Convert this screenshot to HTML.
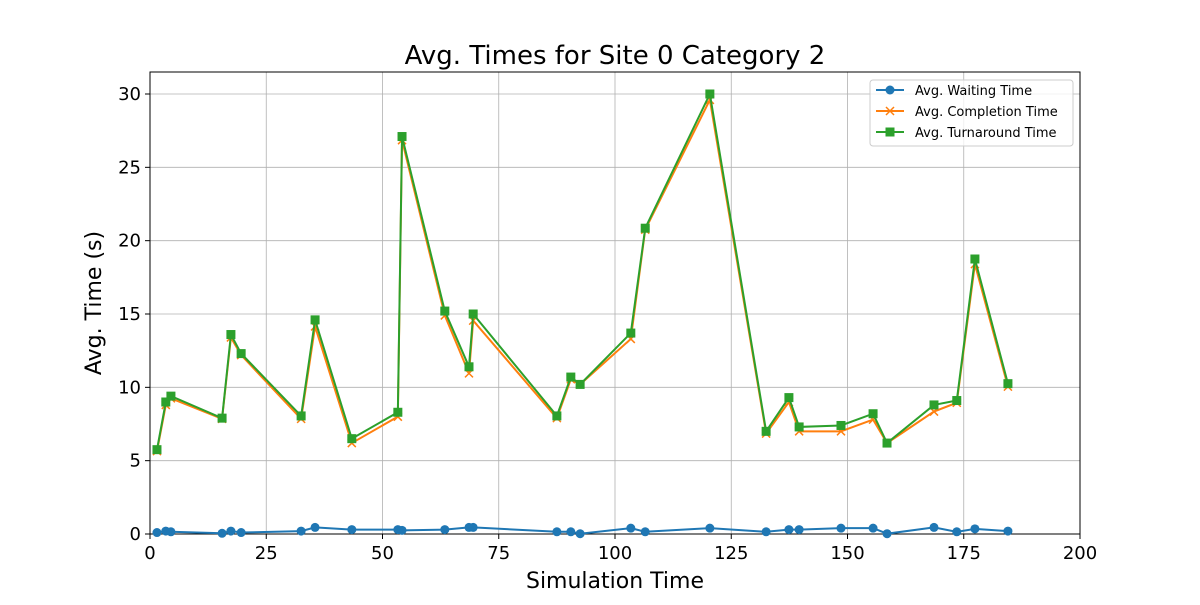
<!DOCTYPE html>
<html><head><meta charset="utf-8"><style>
body{margin:0;background:#fff;font-family:"Liberation Sans","DejaVu Sans",sans-serif}
</style></head><body>
<svg id="chart" width="1200" height="600" xmlns="http://www.w3.org/2000/svg" font-family="DejaVu Sans, Liberation Sans, sans-serif"></svg>
<script>
const xValues=[1.5,3.4,4.5,15.5,17.4,19.6,32.5,35.5,43.4,53.3,54.2,63.4,68.6,69.5,87.5,90.5,92.5,103.4,106.5,120.4,132.5,137.4,139.6,148.6,155.5,158.5,168.6,173.5,177.4,184.5];
const waiting=[0.1,0.2,0.15,0.05,0.2,0.1,0.2,0.45,0.3,0.3,0.25,0.3,0.45,0.45,0.15,0.15,0.02,0.4,0.15,0.4,0.15,0.3,0.3,0.4,0.4,0.02,0.45,0.15,0.35,0.2];
const completion=[5.65,8.8,9.25,7.85,13.4,12.2,7.85,14.15,6.2,8.0,26.85,14.9,10.95,14.55,7.9,10.55,10.2,13.3,20.75,29.6,6.85,9.0,7.0,7.0,7.8,6.2,8.35,8.95,18.4,10.05];
const turnaround=[5.75,9.0,9.4,7.9,13.6,12.3,8.05,14.6,6.5,8.3,27.1,15.2,11.4,15.0,8.05,10.7,10.2,13.7,20.85,30.0,7.0,9.3,7.3,7.4,8.2,6.2,8.8,9.1,18.75,10.25];
const xTicks=[0,25,50,75,100,125,150,175,200];
const yTicks=[0,5,10,15,20,25,30];
const NS="http://www.w3.org/2000/svg",svg=document.getElementById('chart');
const L=150,R=1080,T=72,B=534;
const X=v=>L+(v/200)*(R-L), Y=v=>B-(v/31.5)*(B-T);
function el(t,a,p){const e=document.createElementNS(NS,t);for(const k in a)e.setAttribute(k,a[k]);(p||svg).appendChild(e);return e;}
const grid=el('g',{});
xTicks.forEach(t=>{el('line',{x1:X(t),x2:X(t),y1:T,y2:B,stroke:'#b0b0b0','stroke-width':0.8},grid);
 el('line',{x1:X(t),x2:X(t),y1:B,y2:B+5,stroke:'#000'});
 const tx=el('text',{x:X(t),y:B+25,'text-anchor':'middle','font-size':18});tx.textContent=t;});
yTicks.forEach(t=>{el('line',{x1:L,x2:R,y1:Y(t),y2:Y(t),stroke:'#b0b0b0','stroke-width':0.8},grid);
 el('line',{x1:L-5,x2:L,y1:Y(t),y2:Y(t),stroke:'#000'});
 const tx=el('text',{x:L-9,y:Y(t)+6,'text-anchor':'end','font-size':18});tx.textContent=t;});
const frame=el('rect',{x:L,y:T,width:R-L,height:B-T,fill:'none',stroke:'#000','stroke-width':1});

function series(vals,color,marker,name){const g=el('g',{});
 el('polyline',{points:vals.map((v,i)=>X(xValues[i])+','+Y(v)).join(' '),fill:'none',stroke:color,'stroke-width':2},g);
 vals.forEach((v,i)=>{const x=X(xValues[i]),y=Y(v);let m;
  if(marker==='o')m=el('circle',{cx:x,cy:y,r:4.5,fill:color},g);
  else if(marker==='s')m=el('rect',{x:x-4.5,y:y-4.5,width:9,height:9,fill:color},g);
  else m=el('path',{d:`M${x-4},${y-4}L${x+4},${y+4}M${x-4},${y+4}L${x+4},${y-4}`,stroke:color,'stroke-width':1.5},g);
  });}
series(waiting,'#1f77b4','o','waiting-series');
series(completion,'#ff7f0e','x','completion-series');
series(turnaround,'#2ca02c','s','turnaround-series');
let t=el('text',{x:615,y:64,'text-anchor':'middle','font-size':26});t.textContent='Avg. Times for Site 0 Category 2';
t=el('text',{x:615,y:588,'text-anchor':'middle','font-size':22});t.textContent='Simulation Time';
t=el('text',{x:101,y:303,'text-anchor':'middle','font-size':22,transform:'rotate(-90 101 303)'});t.textContent='Avg. Time (s)';
const lg=el('g',{});
el('rect',{x:870,y:80,width:203,height:66,rx:3,fill:'#fff','fill-opacity':0.8,stroke:'#ccc'},lg);
[['Avg. Waiting Time','#1f77b4','o'],['Avg. Completion Time','#ff7f0e','x'],['Avg. Turnaround Time','#2ca02c','s']].forEach((d,i)=>{
 const y=90+i*21,g=el('g',{},lg);
 el('line',{x1:876,x2:904,y1:y,y2:y,stroke:d[1],'stroke-width':2},g);
 if(d[2]==='o')el('circle',{cx:890,cy:y,r:4.5,fill:d[1]},g);
 else if(d[2]==='s')el('rect',{x:885.5,y:y-4.5,width:9,height:9,fill:d[1]},g);
 else el('path',{d:`M886,${y-4}L894,${y+4}M886,${y+4}L894,${y-4}`,stroke:d[1],'stroke-width':1.5},g);
 const tx=el('text',{x:915,y:y+5,'font-size':13},g);tx.textContent=d[0];});
</script>
</body></html>
